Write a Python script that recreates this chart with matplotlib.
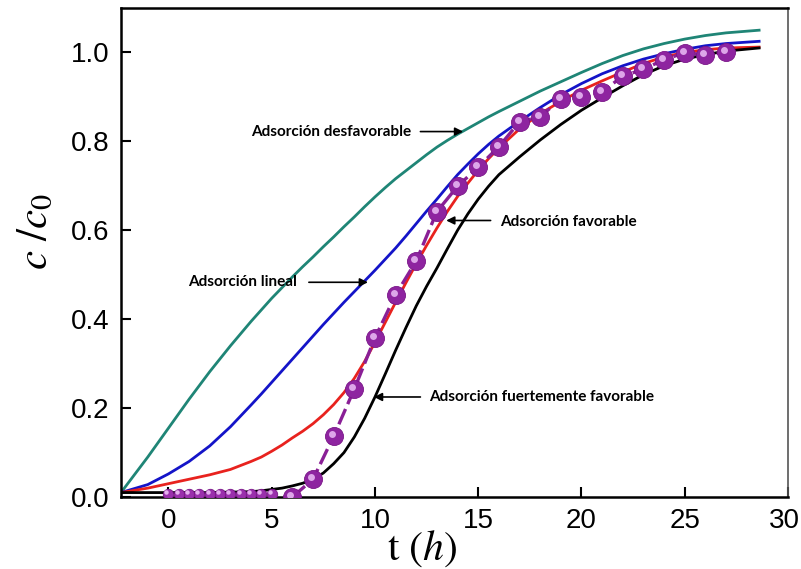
import matplotlib
matplotlib.use("Agg")
import matplotlib.pyplot as plt
import matplotlib.transforms as mtransforms

plt.rcParams['mathtext.fontset'] = 'stix'

# Breakthrough curves c/c0 versus time t (h)
t_curve = [-2.3, -1, 0, 1, 2, 3,
           4, 4.5, 5, 5.5, 6, 6.5, 7, 7.5, 8, 8.5, 9, 9.5, 10, 10.5, 11, 11.5,
           12, 12.5, 13, 13.5, 14, 14.5, 15, 15.5, 16,
           17, 18, 19, 20, 21, 22, 23, 24, 25, 26, 27, 28.6]

desfavorable = [0.01, 0.09, 0.155, 0.22, 0.282, 0.34,
                0.395, 0.421, 0.447, 0.471, 0.495, 0.518, 0.54, 0.563, 0.585, 0.608,
                0.63, 0.653, 0.675, 0.696, 0.716, 0.734, 0.752, 0.77, 0.787, 0.802,
                0.816, 0.829, 0.842, 0.855, 0.867,
                0.89, 0.913, 0.934, 0.955, 0.975, 0.993, 1.008, 1.02, 1.03, 1.038, 1.044, 1.05]

lineal = [0.01, 0.028, 0.052, 0.08, 0.115, 0.158,
          0.207, 0.232, 0.258, 0.284, 0.31, 0.336, 0.362, 0.388, 0.413, 0.438,
          0.462, 0.486, 0.51, 0.535, 0.56, 0.587, 0.615, 0.643, 0.67, 0.698,
          0.725, 0.749, 0.772, 0.793, 0.812,
          0.845, 0.876, 0.905, 0.93, 0.952, 0.97, 0.985, 0.997, 1.007, 1.015, 1.02, 1.025]

favorable = [0.01, 0.02, 0.03, 0.04, 0.05, 0.062,
             0.08, 0.09, 0.103, 0.117, 0.133, 0.148, 0.165, 0.185, 0.208, 0.235,
             0.267, 0.305, 0.348, 0.393, 0.438, 0.482, 0.525, 0.566, 0.605, 0.642,
             0.676, 0.706, 0.735, 0.761, 0.785,
             0.828, 0.862, 0.89, 0.915, 0.936, 0.956, 0.975, 0.99, 1.0, 1.006, 1.01, 1.012]

fuertemente = [0.01, 0.01, 0.01, 0.01, 0.01, 0.011,
               0.012, 0.014, 0.017, 0.02, 0.025, 0.031, 0.04, 0.054, 0.075, 0.1,
               0.135, 0.177, 0.225, 0.277, 0.33, 0.381, 0.43, 0.474, 0.515, 0.558,
               0.6, 0.637, 0.67, 0.699, 0.725,
               0.765, 0.803, 0.838, 0.87, 0.898, 0.925, 0.95, 0.97, 0.985, 0.995, 1.003, 1.01]

# Experimental points
t_base = [0, 0.5, 1, 1.5, 2, 2.5, 3, 3.5, 4, 4.5, 5]
c_base = [0.006] * len(t_base)
t_exp = [6, 7, 8, 9, 10, 11, 12, 13, 14, 15, 16, 17, 18, 19, 20, 21, 22, 23, 24, 25, 26, 27]
c_exp = [0.0, 0.04, 0.137, 0.243, 0.358, 0.455, 0.531, 0.642, 0.699, 0.742, 0.788,
         0.844, 0.855, 0.896, 0.90, 0.911, 0.947, 0.962, 0.984, 0.999, 0.995, 1.0]

x_ticks = [0, 5, 10, 15, 20, 25, 30]
y_ticks = [0.0, 0.2, 0.4, 0.6, 0.8, 1.0]

fig = plt.figure(figsize=(8.01, 5.69), dpi=100)
ax = fig.add_axes([0.151, 0.1265, 0.8328, 0.8595])

lw = 2.0
ax.plot(t_curve, desfavorable, color='#1f8576', lw=lw, zorder=2)
ax.plot(t_curve, lineal, color='#1414c8', lw=lw, zorder=2)
ax.plot(t_curve, favorable, color='#e8221e', lw=lw, zorder=2)
ax.plot(t_curve, fuertemente, color='black', lw=lw, zorder=3)

# dashed connector through the data points
ax.plot(t_exp, c_exp, color='#8a1f96', lw=2.4, ls=(0, (5, 1.6)), zorder=4)

# shaded spheres: base disc plus an offset highlight
hl = mtransforms.offset_copy(ax.transData, fig=fig, x=-2.0, y=2.0, units='dots')
ax.plot(t_base, c_base, ls='none', marker='o', ms=7.5, mfc='#9a30ac',
        mec='#7a1688', mew=0.6, zorder=5)
ax.plot(t_base, c_base, ls='none', marker='o', ms=3.2, mfc='#eec0f6',
        mec='none', alpha=0.9, zorder=6, transform=hl)
ax.plot(t_exp, c_exp, ls='none', marker='o', ms=13, mfc='#8e24a0',
        mec='#7a1688', mew=0.6, zorder=5)
ax.plot(t_exp, c_exp, ls='none', marker='o', ms=5, mfc='#e7b5f2',
        mec='none', alpha=0.9, zorder=6, transform=hl)

ax.set_xlim(-2.3, 30)
ax.set_ylim(0, 1.1)
ax.set_xticks(x_ticks)
ax.set_yticks(y_ticks)
# the last x label sits flush with the canvas edge, so it is placed by hand below
ax.set_xticklabels([str(v) for v in x_ticks[:-1]] + [''])
ax.set_yticklabels([f'{v:.1f}' for v in y_ticks])
ax.tick_params(direction='in', length=7, width=1.5, top=False, right=False,
               labelsize=20, pad=8)
for lab in ax.get_xticklabels() + ax.get_yticklabels():
    lab.set_fontfamily('Liberation Sans')

ax.annotate(str(x_ticks[-1]), xy=(x_ticks[-1], 0), xycoords=('data', 'axes fraction'),
            xytext=(8.3, -8), textcoords='offset points', ha='right', va='top',
            fontsize=20, family='Liberation Sans', annotation_clip=False)

for side in ('left', 'bottom', 'top'):
    ax.spines[side].set_linewidth(1.8)
ax.spines['right'].set_linewidth(1.2)
ax.spines['right'].set_color('#555555')

ax.set_ylabel(r'$c\ /c_0$', fontsize=31)
ax.yaxis.set_label_coords(-0.097, 0.542)
ax.set_xlabel(r'$\mathrm{t}\ (h)$', fontsize=30)
ax.xaxis.set_label_coords(0.452, -0.062)

# curve annotations
note = dict(fontsize=11, fontweight='bold', family='Lato', va='center', ha='left')
arrow = dict(arrowstyle='-|>', color='black', lw=1.2, mutation_scale=12,
             shrinkA=0, shrinkB=0)

ax.text(3.98, 0.822, 'Adsorción desfavorable', **note)
ax.annotate('', xy=(14.27, 0.822), xytext=(12.2, 0.822), arrowprops=arrow)

ax.text(16.07, 0.618, 'Adsorción favorable', **note)
ax.annotate('', xy=(13.45, 0.622), xytext=(15.6, 0.622), arrowprops=arrow)

ax.text(0.97, 0.483, 'Adsorción lineal', **note)
ax.annotate('', xy=(9.66, 0.483), xytext=(6.8, 0.483), arrowprops=arrow)

ax.text(12.6, 0.225, 'Adsorción fuertemente favorable', **note)
ax.annotate('', xy=(9.95, 0.225), xytext=(12.2, 0.225), arrowprops=arrow)

fig.savefig('out.png', dpi=100)
